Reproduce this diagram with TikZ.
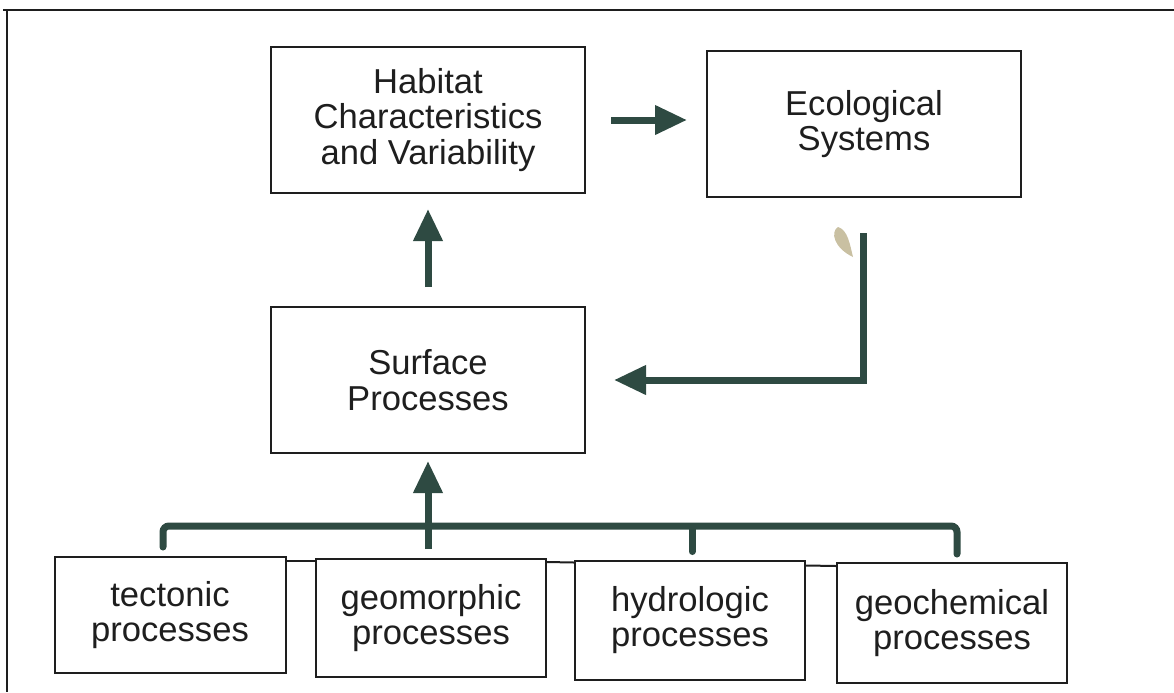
\documentclass[tikz,border=0pt]{standalone}
\usepackage{fontspec}
\setmainfont{Liberation Sans}
\usetikzlibrary{arrows.meta,calc}
\definecolor{arrowc}{HTML}{2E4A42}
\definecolor{ink}{HTML}{1E1E1E}
\definecolor{leafc}{HTML}{C9C0A2}
\tikzset{
  box/.style={draw=ink, line width=1pt, align=center, text=ink, inner sep=0pt,
    font=\fontsize{17.3}{17.8}\selectfont},
  bigbox/.style={box, minimum width=157pt, minimum height=73pt},
  smallbox/.style={box, minimum width=115pt, minimum height=59pt},
  arr/.style={draw=arrowc, line width=3.5pt, -{Triangle[length=16pt,width=14pt]}},
  conn/.style={draw=arrowc, line width=3.5pt, line cap=round},
  thin/.style={draw=ink, line width=1pt},
}
\begin{document}
\begin{tikzpicture}[x=0.5pt,y=-0.5pt]
\useasboundingbox (0,0) rectangle (1174,692);
% frame
\draw[ink, line width=1pt] (3,10) -- (1174,10);
\draw[ink, line width=1pt] (7,10) -- (7,692);

% main boxes
\node[bigbox] (hab) at (428,120) {\raisebox{-4pt}{\parbox{150pt}{\centering Habitat\\Characteristics\\and Variability}}};
\node[bigbox] (eco) at (864,124) {\raisebox{2pt}{\parbox{150pt}{\centering Ecological\\Systems}}};
\node[bigbox] (sur) at (428,380) {\parbox{150pt}{\centering Surface\\Processes}};

% bottom boxes
\node[smallbox, minimum width=115.5pt, minimum height=58pt] (tec) at (170,615) {\parbox{110pt}{\centering tectonic\\processes}};
\node[smallbox, minimum height=59pt] (gmo) at (431,618) {\parbox{110pt}{\centering geomorphic\\processes}};
\node[smallbox, minimum height=59.5pt] (hyd) at (690,620) {\parbox{110pt}{\centering hydrologic\\processes}};
\node[smallbox, minimum height=60pt] (gch) at (952,623) {\parbox{110pt}{\centering geochemical\\processes}};

% thin links between bottom boxes
\draw[thin] ($(tec.north east)+(0,5)$) -- ($(gmo.north west)+(0,3)$);
\draw[thin] ($(gmo.north east)+(0,4)$) -- ($(hyd.north west)+(0,3)$);
\draw[thin] ($(hyd.north east)+(0,6)$) -- ($(gch.north west)+(0,4)$);

% arrows
\draw[arr, shorten <=12.5pt, shorten >=9.5pt] (hab.east) -- (hab.east -| eco.west);
\draw[arr, shorten <=9.5pt, shorten >=7.5pt] (sur.north) -- (hab.south);
\draw[arr, shorten >=14pt] ($(eco.south)+(-1,35)$) |- (sur.east);

% bus from bottom boxes
\draw[conn, rounded corners=3pt] ($(tec.north)+(-7,-9)$) |- ($(gch.north)+(5,-36)$) -- ($(gch.north)+(5,-8)$);
\draw[conn] ($(hyd.north)+(2,-8)$) -- ($(hyd.north)+(2,-33)$);
\draw[arr, shorten >=3.5pt] ($(gmo.north)+(-3,-9)$) -- (sur.south);

% small tan blot
\fill[leafc] (838,227) .. controls (830,232) and (834,248) .. (853,257)
  .. controls (850,245) and (848,230) .. cycle;
\end{tikzpicture}
\end{document}
